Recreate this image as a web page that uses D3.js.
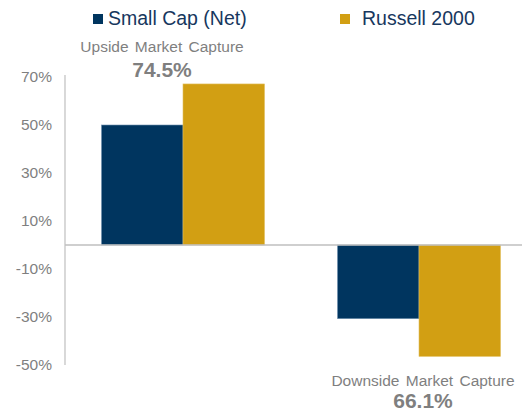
<!DOCTYPE html>
<html><head><meta charset="utf-8">
<script src="https://cdn.jsdelivr.net/npm/d3@7"></script>
<style>body{margin:0;background:#fff;}svg{display:block;font-family:"Liberation Sans",Arial,sans-serif;}</style>
</head><body>
<svg id="c" width="522" height="411"></svg>
<script>
const categories = ["Upside Market Capture", "Downside Market Capture"];
const seriesNames = ["Small Cap (Net)", "Russell 2000"];
const smallCap = [50.0, -30.7];
const russell = [67.1, -46.4];
const captureLabels = ["74.5%", "66.1%"];
const tickValues = [-50, -30, -10, 10, 30, 50, 70];
const colors = ["#00355F", "#D29F13"];

const svg = d3.select("#c");
const y = d3.scaleLinear().domain([-50, 70]).range([365, 77]);
const x0 = d3.scaleBand().domain(categories).range([65, 537]);
const x1 = d3.scaleBand().domain(seriesNames).range([0, 163]);
const groupOffset = (x0.bandwidth() - 163) / 2;

// y axis
const yAxis = d3.axisLeft(y).tickValues(tickValues).tickSize(0).tickPadding(13)
  .tickFormat(d => d + "%");
const ga = svg.append("g").attr("transform", "translate(65,0)").call(yAxis);
ga.select(".domain").attr("stroke", "#BFBFBF").attr("stroke-width", 1.2)
  .attr("d", `M0,${y(70)-2}V${y(-50)}`);
ga.selectAll("text").attr("fill", "#7F7F7F").style("font-size", "15.5px")
  .style("font-family", '"Liberation Sans",Arial,sans-serif');

const data = categories.map((c, i) => ({cat: c, vals: [smallCap[i], russell[i]]}));
const groups = svg.selectAll(".grp").data(data).enter().append("g")
  .attr("transform", d => `translate(${x0(d.cat) + groupOffset},0)`);
groups.selectAll("rect").data(d => d.vals.map((v, j) => ({v, s: seriesNames[j], j})))
  .enter().append("rect")
  .attr("x", d => x1(d.s))
  .attr("width", x1.bandwidth())
  .attr("y", d => Math.min(y(d.v), y(0)))
  .attr("height", d => Math.abs(y(d.v) - y(0)))
  .attr("fill", d => colors[d.j])
  .attr("stroke", d => d.j === 0 ? "#6F8FAE" : "#E2BF5E")
  .attr("stroke-width", 0.6);

// zero line
svg.append("line").attr("x1", 65).attr("x2", 522).attr("y1", y(0)).attr("y2", y(0))
  .attr("stroke", "#BFBFBF").attr("stroke-width", 1.5);

// category annotations
const catLabelY = [52, 386];
const pctY = [77, 408];
categories.forEach((c, i) => {
  const cx = x0(c) + groupOffset + 163 / 2 + (i === 0 ? -21 : 4);
  svg.append("text").attr("x", cx).attr("y", catLabelY[i]).attr("text-anchor", "middle")
    .attr("fill", "#7F7F7F").style("font-size", "15.5px").style("word-spacing", "2px").text(c);
  svg.append("text").attr("x", cx).attr("y", pctY[i]).attr("text-anchor", "middle")
    .attr("fill", "#7F7F7F").style("font-size", "21px").style("font-weight", "bold").text(captureLabels[i]);
});

// legend
const legX = [93, 340];
seriesNames.forEach((s, i) => {
  svg.append("rect").attr("x", legX[i]).attr("y", 14).attr("width", 10).attr("height", 10).attr("fill", colors[i]);
  svg.append("text").attr("x", legX[i] + 15 + (i === 1 ? 7 : 0)).attr("y", 25)
    .attr("fill", "#17375E").style("font-size", "19.5px").text(s);
});
</script>
</body></html>
